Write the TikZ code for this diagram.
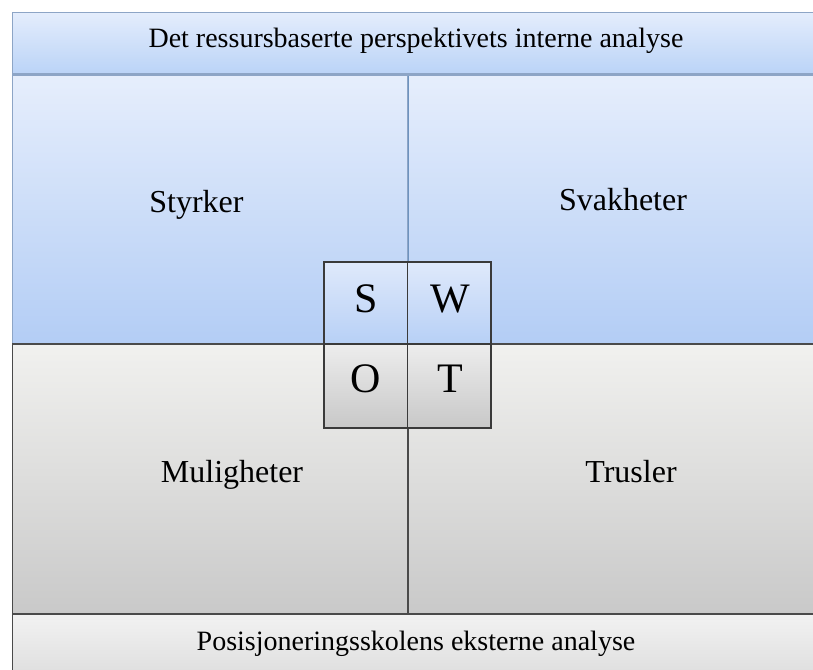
\documentclass[tikz,border=0pt]{standalone}
\usepackage{fontspec}
\setmainfont{Liberation Serif}
\definecolor{bluetop}{HTML}{E6EEFC}
\definecolor{bluebot}{HTML}{B3CDF5}
\definecolor{barbluetop}{HTML}{E4EDFC}
\definecolor{barbluebot}{HTML}{BAD3F7}
\definecolor{blueline}{HTML}{8DA5C6}
\definecolor{bluediv}{HTML}{6E93BF}
\definecolor{greytop}{HTML}{F1F1EF}
\definecolor{greybot}{HTML}{C9C9C9}
\definecolor{bartop}{HTML}{F2F2F2}
\definecolor{barbot}{HTML}{DADADA}
\definecolor{greyline}{HTML}{4A4A4A}
\definecolor{cellline}{HTML}{3A3A3A}
\definecolor{cellbluetop}{HTML}{DFE9FB}
\definecolor{cellbluebot}{HTML}{B7D0F6}
\definecolor{cellgreytop}{HTML}{EDEDED}
\definecolor{cellgreybot}{HTML}{C8C8C8}
\begin{document}
\begin{tikzpicture}[x=1pt,y=-1pt,
  box/.style={rectangle, inner sep=0pt, outer sep=0pt, anchor=north west},
  barblue/.style={box, draw=blueline, line width=1.5pt, top color=barbluetop, bottom color=barbluebot},
  quadblue/.style={box, draw=blueline, line width=1.2pt, top color=bluetop, bottom color=bluebot},
  quadgrey/.style={box, draw=greyline, line width=1.5pt, top color=greytop, bottom color=greybot},
  bargrey/.style={box, draw=greyline, line width=1.5pt, top color=bartop, bottom color=barbot},
  cellblue/.style={box, draw=cellline, line width=1.6pt, top color=cellbluetop, bottom color=cellbluebot, minimum width=83.5pt, minimum height=82pt},
  cellgrey/.style={box, draw=cellline, line width=1.6pt, top color=cellgreytop, bottom color=cellgreybot, minimum width=83.5pt, minimum height=84pt},
  bartext/.style={anchor=base, inner sep=0pt, font=\fontsize{28}{34}\selectfont},
  quadtext/.style={anchor=base, inner sep=0pt, font=\fontsize{32}{38}\selectfont},
  lettertext/.style={anchor=base, inner sep=0pt, font=\fontsize{42}{50}\selectfont}
]
\useasboundingbox (0,0) rectangle (813,669);
\fill[white] (0,0) rectangle (813,669);
\clip (0,0) rectangle (813,669);

% bars and quadrants
\node[barblue, minimum width=807.5pt, minimum height=62pt] (topbar) at (12.5,12.5) {};
\node[quadblue, minimum width=395.5pt, minimum height=269pt] (sq) at (12.5,75) {};
\node[quadblue, minimum width=412pt, minimum height=269pt] (wq) at (408,75) {};
\node[quadgrey, minimum width=395.5pt, minimum height=270pt] (oq) at (12.5,344) {};
\node[quadgrey, minimum width=412pt, minimum height=270pt] (tq) at (408,344) {};
\node[bargrey, minimum width=807.5pt, minimum height=75pt] (botbar) at (12.5,614) {};

% dividers
\draw[bluediv, line width=1pt] (sq.north east) -- (sq.south east);
\draw[greyline, line width=1.6pt] (oq.north east) -- (oq.south east);
\draw[greyline, line width=2pt] (oq.north west) -- (tq.north east);
\draw[blueline, line width=2.5pt] (topbar.south west) -- (topbar.south east);

% SWOT cells
\node[cellblue] (scell) at (324,262) {};
\node[cellblue] (wcell) at (407.5,262) {};
\node[cellgrey] (ocell) at (324,344) {};
\node[cellgrey] (tcell) at (407.5,344) {};

% texts
\node[bartext] (toptext) at (416,48) {Det ressursbaserte perspektivets interne analyse};
\node[bartext] (bottext) at (416,650) {Posisjoneringsskolens eksterne analyse};
\node[quadtext] (styrker) at (196.5,212) {Styrker};
\node[quadtext] (svakheter) at (623,210) {Svakheter};
\node[quadtext] (muligheter) at (232,482) {Muligheter};
\node[quadtext] (trusler) at (631,482) {Trusler};
\node[lettertext] (sletter) at (366.5,312) {S};
\node[lettertext] (wletter) at (450.5,312) {W};
\node[lettertext] (oletter) at (366,392) {O};
\node[lettertext] (tletter) at (450,392) {T};
\end{tikzpicture}
\end{document}
